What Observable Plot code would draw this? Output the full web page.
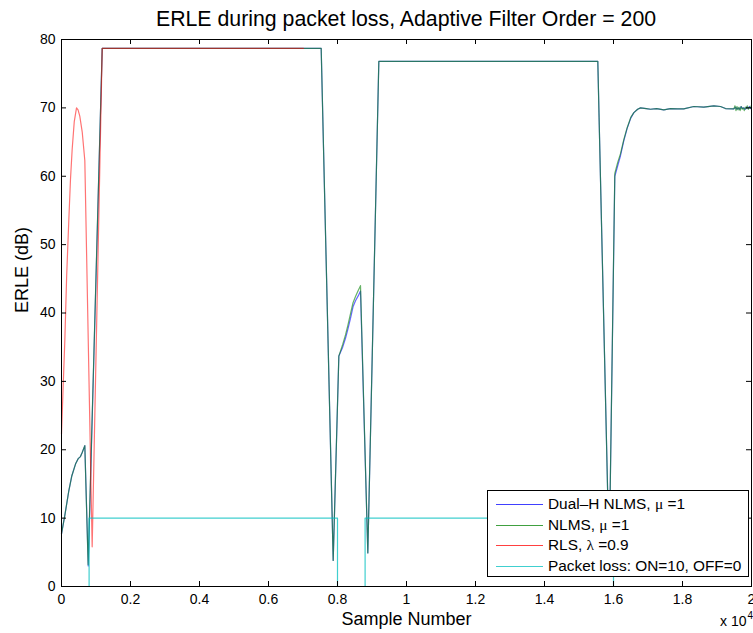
<!DOCTYPE html>
<html>
<head>
<meta charset="utf-8">
<script src="https://cdn.jsdelivr.net/npm/d3@7"></script>
<script src="https://cdn.jsdelivr.net/npm/@observablehq/plot@0.6"></script>
<style>
  body { margin: 0; background: #fff; font-family: "Liberation Sans", Arial, sans-serif; overflow: hidden; position: relative; width: 753px; height: 633px; }
  #title { box-sizing: border-box; width: 753px; height: 28px; padding-left: 59px; text-align: center; font-size: 21.3px; line-height: 28px; white-space: nowrap; }
  #title span { position: relative; top: 5px; }
  #legend { position: absolute; left: 487px; top: 490px; width: 262px; height: 87px; box-sizing: border-box; border: 1px solid #000; background: #fff; font-size: 15.4px; }
  .row { position: absolute; left: 0; height: 20px; line-height: 20px; white-space: nowrap; }
  .sw { position: absolute; left: 8px; top: 10px; width: 47px; height: 1px; opacity: 0.75; }
  .lab { position: absolute; left: 60px; top: 0; }
  .g { font-family: "Liberation Serif", "Times New Roman", serif; }
</style>
</head>
<body>
<div id="title"><span>ERLE during packet loss, Adaptive Filter Order = 200</span></div>
<div id="chart"></div>
<div id="legend"></div>
<script>
// ---- data (sample number, ERLE in dB) ----
const xTicks = [0, 2000, 4000, 6000, 8000, 10000, 12000, 14000, 16000, 18000, 20000];
const yTicks = [0, 10, 20, 30, 40, 50, 60, 70, 80];

const seriesNames = ["Dual\u2013H NLMS, \u03bc =1", "NLMS, \u03bc =1", "RLS, \u03bb =0.9", "Packet loss: ON=10, OFF=0"];
const seriesColors = ["#0000ff", "#008000", "#ff0000", "#00bfbf"];

const dualHX = [0, 100, 212, 300, 406, 483, 550, 600, 676, 775, 1180, 7527, 7875, 8039, 8150, 8232, 8300, 8377, 8450, 8522, 8600, 8667, 8879, 9198, 15545, 15875, 16038, 16120, 16203, 16300, 16396, 16500, 16590, 16700, 16783, 16950, 17072, 17250, 17458, 17652, 17850, 18038, 18328, 18618, 18908, 19101, 19246, 19488, 19540, 19580, 19620, 19660, 19700, 19740, 19780, 19820, 19860, 19900, 19940, 19980, 20000];
const dualHY = [7.7, 10.5, 14.0, 16.2, 17.9, 18.7, 19.0, 19.6, 20.6, 3.0, 78.7, 78.7, 3.8, 33.7, 35.0, 36.3, 37.6, 39.2, 40.9, 41.8, 42.5, 43.2, 4.9, 76.8, 76.8, 4.0, 60.0, 61.5, 63.0, 65.2, 67.0, 68.5, 69.3, 69.8, 70.0, 69.9, 69.8, 69.9, 69.7, 69.9, 69.85, 69.85, 70.2, 70.1, 70.3, 70.2, 69.9, 69.85, 70.1, 69.8, 70.0, 69.8, 70.2, 69.9, 70.0, 69.8, 70.1, 69.9, 70.2, 69.9, 70.1];

const nlmsX = [0, 100, 212, 300, 406, 483, 550, 600, 676, 772, 1180, 7527, 7875, 8039, 8150, 8232, 8300, 8377, 8450, 8522, 8600, 8667, 8879, 9198, 15545, 15875, 16038, 16120, 16203, 16300, 16396, 16500, 16590, 16700, 16783, 16950, 17072, 17250, 17458, 17652, 17850, 18038, 18328, 18618, 18908, 19101, 19246, 19488, 19520, 19550, 19580, 19610, 19640, 19670, 19700, 19730, 19760, 19790, 19820, 19850, 19880, 19910, 19940, 19970, 20000];
const nlmsY = [7.7, 10.5, 14.0, 16.2, 17.9, 18.7, 19.0, 19.6, 20.6, 3.2, 78.7, 78.7, 3.8, 33.7, 35.4, 36.8, 38.2, 39.9, 41.5, 42.4, 43.3, 44.0, 4.9, 76.8, 76.8, 4.0, 60.4, 62.0, 63.3, 65.4, 67.1, 68.6, 69.3, 69.8, 70.0, 69.9, 69.8, 69.9, 69.7, 69.9, 69.85, 69.85, 70.2, 70.1, 70.3, 70.2, 69.9, 69.85, 70.3, 69.6, 70.2, 69.7, 70.1, 69.6, 70.2, 69.8, 70.0, 69.6, 70.1, 69.9, 70.3, 69.8, 70.1, 70.0, 70.4];

const rlsX = [0, 50, 97, 150, 213, 260, 309, 370, 435, 480, 530, 600, 676, 889, 1180, 7014];
const rlsY = [22.3, 29.5, 36.1, 45.5, 53.7, 59.5, 63.9, 68.0, 70.0, 69.7, 68.8, 66.5, 62.3, 5.8, 78.7, 78.7];

const lossX = [0, 800, 8000, 8800, 16000, 20000];
const lossY = [0, 10, 0, 10, 0, 0];

const toRows = (xs, ys) => xs.map((x, i) => ({x, y: ys[i]}));
const dualH = toRows(dualHX, dualHY);
const nlms = toRows(nlmsX, nlmsY);
const rls = toRows(rlsX, rlsY);
const loss = toRows(lossX, lossY);

const plotW = 753 - 61 - 2;
const plotH = 605 - 11 - 47;

const chart = Plot.plot({
  width: 753,
  height: 605,
  marginTop: 11,
  marginRight: 2,
  marginBottom: 47,
  marginLeft: 61,
  style: {fontFamily: "'Liberation Sans', Arial, sans-serif", fontSize: "14px", color: "black", background: "white", overflow: "visible"},
  x: {domain: [0, 20000], ticks: xTicks, tickFormat: d => String(d / 10000), tickSize: 0, tickPadding: 8, label: null},
  y: {domain: [0, 80], ticks: yTicks, tickSize: 0, tickPadding: 6, label: null},
  marks: [
    Plot.line(dualH, {x: "x", y: "y", stroke: seriesColors[0], strokeWidth: 1.2, strokeOpacity: 0.6}),
    Plot.line(nlms, {x: "x", y: "y", stroke: seriesColors[1], strokeWidth: 1.2, strokeOpacity: 0.6}),
    Plot.line(rls, {x: "x", y: "y", stroke: seriesColors[2], strokeWidth: 1.2, strokeOpacity: 0.55}),
    Plot.line(loss, {x: "x", y: "y", stroke: seriesColors[3], strokeWidth: 1.2, strokeOpacity: 0.75, curve: "step-after"}),
    Plot.frame({stroke: "black"}),
    Plot.tickX(xTicks, {x: d => d, insetTop: plotH - 5, stroke: "black"}),
    Plot.tickX(xTicks, {x: d => d, insetBottom: plotH - 5, stroke: "black"}),
    Plot.tickY(yTicks, {y: d => d, insetRight: plotW - 5, stroke: "black"}),
    Plot.tickY(yTicks, {y: d => d, insetLeft: plotW - 5, stroke: "black"}),
    Plot.text(["Sample Number"], {text: d => d, frameAnchor: "bottom", dy: 38, fontSize: 18}),
    Plot.text(["ERLE (dB)"], {text: d => d, frameAnchor: "left", dx: -39, rotate: -90, fontSize: 18}),
    Plot.text(["x 10"], {text: d => d, frameAnchor: "bottom-right", textAnchor: "end", dx: -5, dy: 39, fontSize: 14}),
    Plot.text(["4"], {text: d => d, frameAnchor: "bottom-right", textAnchor: "start", dx: -4, dy: 32, fontSize: 10})
  ]
});
document.getElementById("chart").appendChild(chart);

// legend
const legend = document.getElementById("legend");
seriesNames.forEach((name, i) => {
  const row = document.createElement("div");
  row.className = "row";
  row.style.top = (3 + i * 20.6) + "px";
  row.style.width = "260px";
  const sw = document.createElement("div");
  sw.className = "sw";
  sw.style.background = seriesColors[i];
  const lab = document.createElement("div");
  lab.className = "lab";
  lab.innerHTML = name.replace(/([\u03bc\u03bb])/g, '<span class="g">$1</span>');
  row.appendChild(sw);
  row.appendChild(lab);
  legend.appendChild(row);
});
</script>
</body>
</html>
